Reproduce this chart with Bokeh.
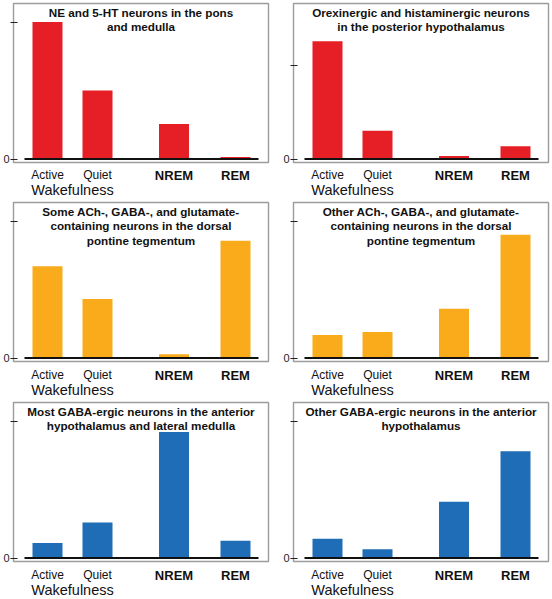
from bokeh.plotting import figure
from bokeh.layouts import column, row
from bokeh.models import Range1d, FixedTicker, Label, ColumnDataSource
from bokeh.core.properties import value
from bokeh.embed import file_html
from bokeh.resources import INLINE

# ---------------- data ----------------
states = ["Active", "Quiet", "NREM", "REM"]
group_label = "Wakefulness"

titles = [
    "NE and 5-HT neurons in the pons\nand medulla",
    "Orexinergic and histaminergic neurons\nin the posterior hypothalamus",
    "Some ACh-, GABA-, and glutamate-\ncontaining neurons in the dorsal\npontine tegmentum",
    "Other ACh-, GABA-, and glutamate-\ncontaining neurons in the dorsal\npontine tegmentum",
    "Most GABA-ergic neurons in the anterior\nhypothalamus and lateral medulla",
    "Other GABA-ergic neurons in the anterior\nhypothalamus",
]

ne_5ht = [1.0, 0.50, 0.255, 0.015]
orexin_histamine = [0.859, 0.207, 0.022, 0.093]
some_ach_gaba_glu = [0.67, 0.43, 0.027, 0.856]
other_ach_gaba_glu = [0.168, 0.19, 0.36, 0.90]
most_gaba = [0.11, 0.26, 0.92, 0.126]
other_gaba = [0.14, 0.063, 0.41, 0.78]

upper_tick = [1.0, 0.682, 1.0, 1.0, 1.0, 1.0]

series = [ne_5ht, orexin_histamine, some_ach_gaba_glu,
          other_ach_gaba_glu, most_gaba, other_gaba]

# ---------------- layout / style ----------------
RED = "#e61e26"
ORANGE = "#f9ab1c"
BLUE = "#1e6db6"
colors = [RED, RED, ORANGE, ORANGE, BLUE, BLUE]

X_POS = [0.0, 1.0, 2.53, 3.76]
BAR_W = 0.6
PX_X = 50.0          # px per x unit
PX_Y = 137.0         # px per y unit
FRAME_W = 255
FRAME_H = 159
X0 = -34 / PX_X
X1 = X0 + FRAME_W / PX_X
Y0 = -3.5 / PX_Y
Y1 = Y0 + FRAME_H / PX_Y
MAIN_BOTTOM = 6

FONT = "Liberation Sans"
TXT = "#111111"

col_specs = [dict(width=280, left=13, right=12), dict(width=272, left=13, right=4)]
row_specs = [dict(height=200, top=3, lab=-11.5), dict(height=200, top=2, lab=-12.5),
             dict(height=199, top=2, lab=-12.5)]


def panel(i):
    r, c = divmod(i, 2)
    cs, rs = col_specs[c], row_specs[r]
    main_h = rs["top"] + FRAME_H + MAIN_BOTTOM
    xr = Range1d(X0, X1)
    p = figure(width=cs["width"], height=main_h,
               x_range=xr, y_range=Range1d(Y0, Y1),
               min_border_left=cs["left"], min_border_right=cs["right"],
               min_border_top=rs["top"], min_border_bottom=MAIN_BOTTOM,
               x_axis_location=None, toolbar_location=None,
               output_backend="svg", tools="")
    p.grid.visible = False
    p.background_fill_color = "white"
    p.border_fill_color = "white"
    p.outline_line_color = "#9c9c9c"
    p.outline_line_width = 1.4

    ax = p.yaxis[0]
    ax.ticker = FixedTicker(ticks=[0, upper_tick[i]])
    ax.major_label_overrides = {0: "0", upper_tick[i]: ""}
    ax.axis_line_color = None
    ax.minor_tick_line_color = None
    ax.major_tick_in = 4
    ax.major_tick_out = 3
    ax.major_tick_line_color = "#222222"
    ax.major_tick_line_width = 1.2
    ax.major_label_standoff = 1
    ax.major_label_text_font = FONT
    ax.major_label_text_font_size = "11px"
    ax.major_label_text_color = "#222222"

    p.vbar(x=X_POS, top=series[i], bottom=0, width=BAR_W,
           fill_color=colors[i], line_color=None)

    pad = 8 / PX_X
    p.segment(x0=[X_POS[0] - BAR_W / 2 - pad], x1=[X_POS[-1] + BAR_W / 2 + pad],
              y0=[0], y1=[0], line_color="#111111", line_width=1.8)

    # title inside box
    p.add_layout(Label(x=(X0 + X1) / 2, y=Y1 - 2 / PX_Y, text=titles[i],
                       text_align="center", text_baseline="top",
                       text_font=FONT, text_font_style="bold",
                       text_font_size="11.7px", text_line_height=1.12,
                       text_color=TXT))

    # label strip below the box (shares the x range)
    strip_h = rs["height"] - main_h
    s = figure(width=cs["width"], height=strip_h,
               x_range=xr, y_range=Range1d(-strip_h, 0),
               min_border_left=cs["left"], min_border_right=cs["right"],
               min_border_top=0, min_border_bottom=0,
               x_axis_location=None, y_axis_location=None,
               toolbar_location=None, output_backend="svg", tools="")
    s.grid.visible = False
    s.outline_line_color = None
    s.background_fill_color = "white"
    s.border_fill_color = "white"

    # y in px below the strip top
    ly = rs["lab"] + (MAIN_BOTTOM - 1)
    wake = ColumnDataSource(dict(x=X_POS[:2], y=[ly, ly], t=states[:2]))
    sleep = ColumnDataSource(dict(x=X_POS[2:], y=[ly, ly], t=states[2:]))
    s.text(x="x", y="y", text="t", source=wake, text_align="center",
           text_baseline="middle", text_font=value(FONT),
           text_font_size="12px", text_color=TXT)
    s.text(x="x", y="y", text="t", source=sleep, text_align="center",
           text_baseline="middle", text_font=value(FONT),
           text_font_style="bold", text_font_size="13px", text_color=TXT)
    s.text(x=[(X_POS[0] + X_POS[1]) / 2], y=[ly - 15], text=[group_label],
           text_align="center", text_baseline="middle", text_font=value(FONT),
           text_font_size="14.5px", text_color=TXT)
    return column(p, s, spacing=0)


panels = [panel(i) for i in range(6)]
layout = column(row(panels[0], panels[1], spacing=0),
                row(panels[2], panels[3], spacing=0),
                row(panels[4], panels[5], spacing=0),
                spacing=0)

open("out.html", "w").write(file_html(layout, INLINE))
